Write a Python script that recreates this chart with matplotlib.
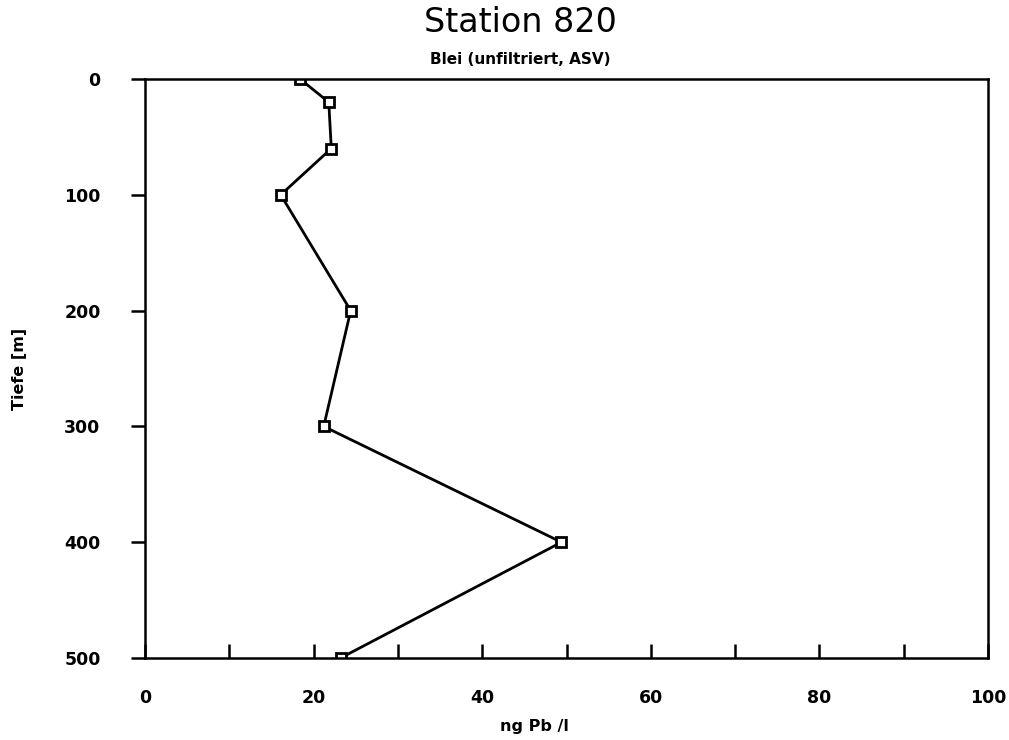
import matplotlib
matplotlib.use("Agg")
from matplotlib import pyplot as plt
from matplotlib.ticker import MultipleLocator

# Bleiprofil Station 820
tiefe = [0, 20, 60, 100, 200, 300, 400, 500]  # m
blei = [18.4, 21.8, 22.1, 16.1, 24.4, 21.2, 49.4, 23.2]  # ng Pb / l

x_ticks = [0, 20, 40, 60, 80, 100]
y_ticks = [0, 100, 200, 300, 400, 500]

fig = plt.figure(figsize=(10.09, 7.40), dpi=100)
ax = fig.add_axes([0.1437, 0.1108, 0.8355, 0.7824])

ax.plot(blei, tiefe, color='black', lw=2.0, marker='s', markersize=7,
        markerfacecolor='white', markeredgecolor='black', markeredgewidth=2.0)

ax.set_xlim(0, 100)
ax.set_ylim(500, 0)
ax.set_xticks(x_ticks)
ax.xaxis.set_minor_locator(MultipleLocator(10))
ax.set_yticks(y_ticks)

ax.tick_params(axis='x', which='both', direction='in', length=10, width=1.8, pad=22)
ax.tick_params(axis='y', direction='out', length=10, width=1.8, pad=22)
for lab in ax.get_xticklabels() + ax.get_yticklabels():
    lab.set_fontweight('bold')
    lab.set_fontsize(12.5)

for s in ax.spines.values():
    s.set_linewidth(1.8)

# Achsenbeschriftungen und Titel
fig.text(0.530, 0.018, 'ng Pb /l', ha='center', va='center', fontsize=11.5,
         fontweight='bold')
fig.text(0.019, 0.501, 'Tiefe [m]', ha='center', va='center', rotation=90,
         fontsize=11.5, fontweight='bold')

fig.text(0.516, 0.970, 'Station 820', ha='center', va='center', fontsize=24)
fig.text(0.516, 0.920, 'Blei (unfiltriert, ASV)', ha='center', va='center',
         fontsize=11, fontweight='bold')

fig.savefig('out.png', dpi=100)
